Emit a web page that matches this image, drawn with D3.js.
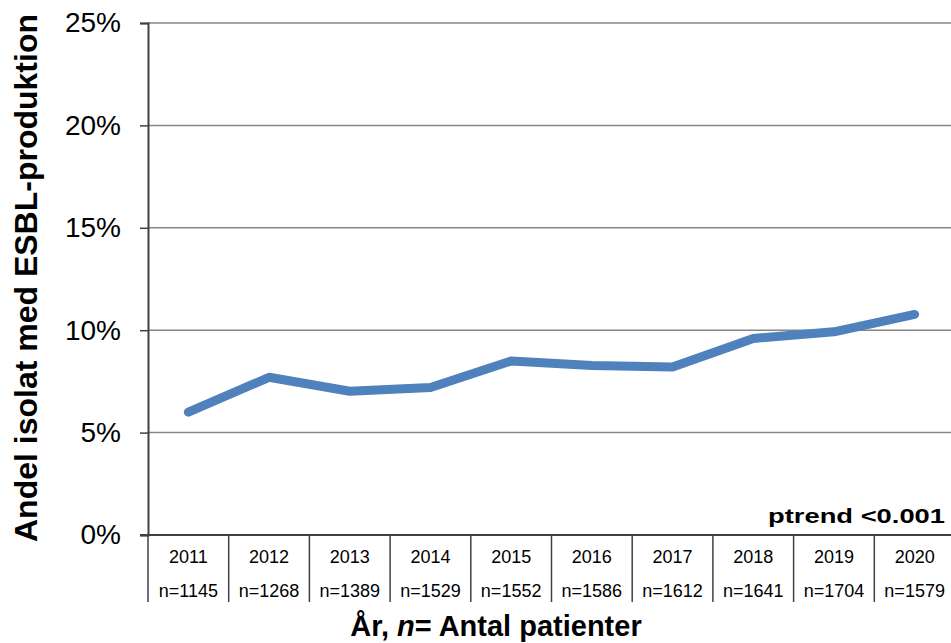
<!DOCTYPE html>
<html>
<head>
<meta charset="utf-8">
<script src="https://cdn.jsdelivr.net/npm/d3@7"></script>
<style>
  body { margin: 0; background: #fff; }
  svg { display: block; }
  text { font-family: "Liberation Sans", Arial, sans-serif; fill: #000; }
</style>
</head>
<body>
<div id="vis"></div>
<script>
// chart data
const YEARS = ["2011", "2012", "2013", "2014", "2015", "2016", "2017", "2018", "2019", "2020"];
const N_PATIENTS = [1145, 1268, 1389, 1529, 1552, 1586, 1612, 1641, 1704, 1579];
const ESBL_SHARE = [6.0, 7.7, 7.02, 7.2, 8.5, 8.28, 8.2, 9.6, 9.92, 10.77]; // percent
const Y_TICKS = [0, 5, 10, 15, 20, 25];

const FRAME_WIDTH = 951;
const FRAME_HEIGHT = 643;
const MARGINS = {left: 148, right: -4, top: 23, bottom: 108};
const VIS_WIDTH = FRAME_WIDTH - MARGINS.left - MARGINS.right;
const VIS_HEIGHT = FRAME_HEIGHT - MARGINS.top - MARGINS.bottom;

const FRAME = d3.select("#vis")
                .append("svg")
                  .attr("width", FRAME_WIDTH)
                  .attr("height", FRAME_HEIGHT);

const X_SCALE = d3.scaleBand()
                  .domain(YEARS)
                  .range([0, VIS_WIDTH]);

const Y_SCALE = d3.scaleLinear()
                  .domain([0, 25])
                  .range([VIS_HEIGHT, 0]);

const plot = FRAME.append("g")
                  .attr("transform", "translate(" + MARGINS.left + "," + MARGINS.top + ")");

// gridlines
plot.selectAll(".grid")
    .data(Y_TICKS.filter(d => d > 0))
    .enter()
    .append("line")
      .attr("x1", 0)
      .attr("x2", VIS_WIDTH)
      .attr("y1", d => Y_SCALE(d))
      .attr("y2", d => Y_SCALE(d))
      .attr("stroke", "#868686")
      .attr("stroke-width", 1.5);

// y axis
const yAxis = plot.append("g")
    .call(d3.axisLeft(Y_SCALE).tickValues(Y_TICKS).tickFormat(d => d + "%").tickSize(8).tickPadding(19));
yAxis.select(".domain").attr("stroke", "#404040").attr("stroke-width", 2);
yAxis.selectAll(".tick line").attr("stroke", "#404040").attr("stroke-width", 1.5);
yAxis.selectAll(".tick text")
     .attr("font-size", "28px")
     .attr("font-family", "Liberation Sans, Arial, sans-serif")
     .attr("fill", "#000");

// x axis line + table below
plot.append("line")
    .attr("x1", -8).attr("x2", VIS_WIDTH)
    .attr("y1", VIS_HEIGHT).attr("y2", VIS_HEIGHT)
    .attr("stroke", "#404040").attr("stroke-width", 2);

plot.selectAll(".sep")
    .data(YEARS)
    .enter()
    .append("line")
      .attr("x1", d => X_SCALE(d))
      .attr("x2", d => X_SCALE(d))
      .attr("y1", VIS_HEIGHT)
      .attr("y2", VIS_HEIGHT + 67)
      .attr("stroke", "#404040")
      .attr("stroke-width", 1.5);

plot.selectAll(".year")
    .data(YEARS)
    .enter()
    .append("text")
      .attr("x", d => X_SCALE(d) + X_SCALE.bandwidth() / 2)
      .attr("y", VIS_HEIGHT + 28)
      .attr("text-anchor", "middle")
      .attr("font-size", "18px")
      .text(d => d);

plot.selectAll(".n")
    .data(YEARS)
    .enter()
    .append("text")
      .attr("x", d => X_SCALE(d) + X_SCALE.bandwidth() / 2)
      .attr("y", VIS_HEIGHT + 62)
      .attr("text-anchor", "middle")
      .attr("font-size", "18px")
      .text((d, i) => "n=" + N_PATIENTS[i]);

// data line
const line = d3.line()
               .x((d, i) => X_SCALE(YEARS[i]) + X_SCALE.bandwidth() / 2)
               .y(d => Y_SCALE(d));

plot.append("path")
    .datum(ESBL_SHARE)
    .attr("d", line)
    .attr("fill", "none")
    .attr("stroke", "#4f81bd")
    .attr("stroke-width", 9)
    .attr("stroke-linecap", "round")
    .attr("stroke-linejoin", "round");

// p-trend note
FRAME.append("text")
     .attr("x", 945)
     .attr("y", 523)
     .attr("text-anchor", "end")
     .attr("font-family", "Open Sans, sans-serif")
     .attr("font-weight", "bold")
     .attr("font-size", "21px")
     .attr("textLength", 177)
     .attr("lengthAdjust", "spacingAndGlyphs")
     .text("ptrend <0.001");

// axis titles
FRAME.append("text")
     .attr("transform", "translate(37," + 278 + ") rotate(-90)")
     .attr("text-anchor", "middle")
     .attr("font-weight", "bold")
     .attr("font-size", "32px")
     .text("Andel isolat med ESBL-produktion");

const xt = FRAME.append("text")
     .attr("x", 496)
     .attr("y", 636)
     .attr("text-anchor", "middle")
     .attr("font-weight", "bold")
     .attr("font-size", "29px");
xt.append("tspan").text("År, ");
xt.append("tspan").attr("font-style", "italic").text("n");
xt.append("tspan").text("= Antal patienter");
</script>
</body>
</html>
